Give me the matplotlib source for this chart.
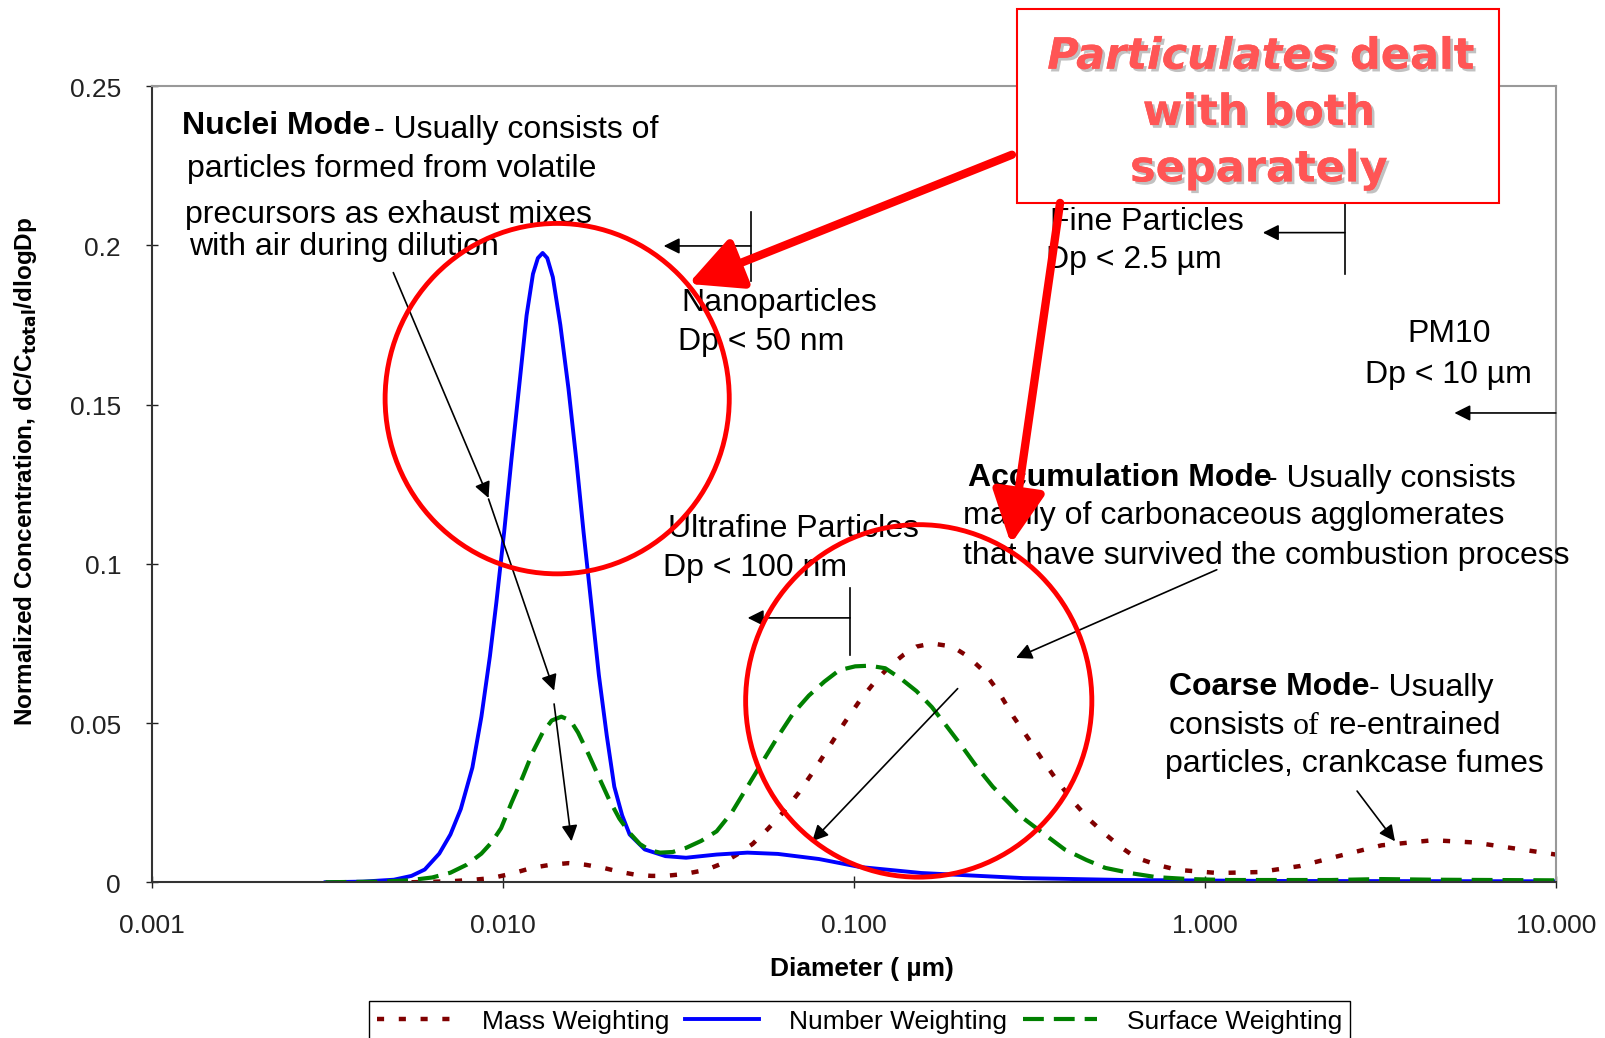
import matplotlib
matplotlib.use('Agg')
import matplotlib.pyplot as plt
from matplotlib.patches import Ellipse, Rectangle, FancyArrowPatch
from matplotlib.lines import Line2D
from matplotlib.ticker import NullLocator
import matplotlib.patheffects as pe

plt.rcParams['font.family'] = ['Liberation Sans', 'DejaVu Sans']

# --- data (diameter in um, dC/Ctotal/dlogDp) ---
diam_number = [0.00313, 0.0040, 0.0049, 0.0055, 0.0060, 0.0066, 0.0071, 0.0076, 0.0082, 0.0087,
               0.0092, 0.0096, 0.0101, 0.0106, 0.0112, 0.0117, 0.0122, 0.0126, 0.0130, 0.0134,
               0.0139, 0.0146, 0.0154, 0.0162, 0.0170, 0.0179, 0.0188, 0.0198, 0.0208, 0.0219,
               0.0230, 0.0254, 0.0291, 0.0333, 0.0407, 0.0498, 0.0608, 0.0796, 0.104, 0.156,
               0.305, 0.597, 1.63, 10.0]
number_w = [0.0, 0.0002, 0.0008, 0.002, 0.004, 0.009, 0.015, 0.023, 0.036, 0.052,
            0.071, 0.088, 0.110, 0.133, 0.158, 0.178, 0.191, 0.196, 0.1976, 0.196,
            0.190, 0.175, 0.155, 0.133, 0.110, 0.087, 0.065, 0.046, 0.030, 0.021,
            0.015, 0.0103, 0.0082, 0.0077, 0.0087, 0.0093, 0.0089, 0.0073, 0.0048, 0.0029,
            0.0013, 0.0007, 0.0004, 0.0003]

diam_surface = [0.00313, 0.0045, 0.0054, 0.0063, 0.0071, 0.0079, 0.0087, 0.0093, 0.0099, 0.0106,
                0.0114, 0.0122, 0.0130, 0.0138, 0.0147, 0.0156, 0.0164, 0.0176, 0.0188, 0.0201,
                0.0215, 0.0230, 0.0246, 0.0263, 0.0281, 0.0305, 0.0333, 0.0368, 0.0407, 0.0450,
                0.0498, 0.0551, 0.0608, 0.0672, 0.0745, 0.0825, 0.091, 0.101, 0.111, 0.123,
                0.136, 0.151, 0.167, 0.184, 0.204, 0.225, 0.249, 0.276, 0.305, 0.350,
                0.399, 0.46, 0.521, 0.62, 0.729, 0.9, 1.17, 2.29, 3.19, 4.47, 10.0]
surface_w = [0.0, 0.0002, 0.0006, 0.0015, 0.003, 0.0055, 0.009, 0.0125, 0.017, 0.025,
             0.033, 0.041, 0.047, 0.0508, 0.052, 0.0508, 0.047, 0.040, 0.033, 0.026,
             0.020, 0.0155, 0.012, 0.010, 0.0093, 0.0095, 0.0108, 0.013, 0.016, 0.022,
             0.030, 0.038, 0.0457, 0.053, 0.0586, 0.063, 0.0666, 0.0678, 0.068, 0.0672,
             0.064, 0.060, 0.055, 0.049, 0.0425, 0.036, 0.030, 0.025, 0.020, 0.015,
             0.0103, 0.007, 0.0045, 0.0028, 0.0016, 0.001, 0.0007, 0.0007, 0.001, 0.0008, 0.0006]

diam_mass = [0.0055, 0.0071, 0.0083, 0.0093, 0.0107, 0.0121, 0.0137, 0.0154, 0.0172, 0.0194,
             0.0215, 0.0238, 0.0265, 0.0291, 0.033, 0.038, 0.042, 0.0465, 0.0515, 0.0569,
             0.063, 0.0696, 0.077, 0.0851, 0.094, 0.104, 0.115, 0.127, 0.139, 0.151,
             0.167, 0.191, 0.211, 0.233, 0.258, 0.285, 0.315, 0.349, 0.385, 0.426,
             0.471, 0.521, 0.577, 0.638, 0.73, 0.834, 1.09, 1.43, 1.87, 2.44,
             3.19, 4.47, 5.85, 7.64, 10.0]
mass_w = [0.0, 0.0003, 0.0008, 0.0013, 0.0028, 0.0045, 0.0055, 0.006, 0.0055, 0.0045,
          0.0033, 0.0024, 0.002, 0.002, 0.0026, 0.0039, 0.0058, 0.0087, 0.012, 0.0167,
          0.022, 0.028, 0.035, 0.0425, 0.050, 0.057, 0.063, 0.068, 0.0715, 0.074,
          0.075, 0.074, 0.071, 0.0666, 0.060, 0.052, 0.045, 0.0376, 0.031, 0.0248,
          0.0195, 0.0151, 0.011, 0.0077, 0.0055, 0.0039, 0.0029, 0.0032, 0.0051, 0.0084,
          0.0116, 0.0132, 0.0125, 0.0106, 0.0087]

x_ticks = [0.001, 0.01, 0.1, 1, 10]
x_tick_labels = ['0.001', '0.010', '0.100', '1.000', '10.000']
y_ticks = [0, 0.05, 0.1, 0.15, 0.2, 0.25]
y_tick_labels = ['0', '0.05', '0.1', '0.15', '0.2', '0.25']

# layout was measured on a 1568x1014 copy of the picture
W, H = 1568, 1014

def fx(x):
    return x / W

def fy(y):
    return 1 - y / H

fig = plt.figure(figsize=(16.0599, 10.3899), dpi=100)
ax = fig.add_axes([fx(148), fy(862), fx(1519) - fx(148), fy(85) - fy(862)])

l_mass, = ax.plot(diam_mass, mass_w, color='#800000', lw=3.2, linestyle=(0, (1.6, 3.3)),
                  label='Mass Weighting')
l_num, = ax.plot(diam_number, number_w, color='#0000FF', lw=2.8, label='Number Weighting')
l_surf, = ax.plot(diam_surface, surface_w, color='#008000', lw=3, linestyle=(0, (5, 2.4)),
                  label='Surface Weighting')

ax.set_xscale('log')
ax.set_xlim(0.001, 10)
ax.set_ylim(0, 0.25)
ax.set_xticks(x_ticks)
ax.set_xticklabels(x_tick_labels)
ax.xaxis.set_minor_locator(NullLocator())
ax.set_yticks(y_ticks)
ax.set_yticklabels(y_tick_labels)
ax.tick_params(direction='inout', length=8, width=1, labelsize=19, colors='#222222')
ax.tick_params(axis='y', pad=18)
ax.tick_params(axis='x', pad=18)
for s in ['left', 'bottom']:
    ax.spines[s].set_color('#333333')
    ax.spines[s].set_linewidth(1.5)
for s in ['top', 'right']:
    ax.spines[s].set_color('#999999')
    ax.spines[s].set_linewidth(1.5)

fig.text(fx(842), fy(946), 'Diameter ( \u00b5m)', fontsize=19, fontweight='bold',
         ha='center', va='center')
fig.text(fx(25), fy(460), 'Normalized Concentration, dC/C$_{\\mathbf{total}}$/dlogDp',
         fontsize=17.5, fontweight='bold', rotation=90, ha='center', va='center')

# annotation texts (x, baseline y, text, weight)
notes = [
    (178, 131, 'Nuclei Mode', 'bold'),
    (365, 135, '- Usually consists of', 'normal'),
    (183, 173, 'particles formed from volatile', 'normal'),
    (181, 218, 'precursors as exhaust mixes', 'normal'),
    (185, 249, 'with air during dilution', 'normal'),
    (665, 304, 'Nanoparticles', 'normal'),
    (662, 342, 'Dp < 50 nm', 'normal'),
    (1025, 224, 'Fine Particles', 'normal'),
    (1021, 262, 'Dp < 2.5 \u00b5m', 'normal'),
    (1374, 334, 'PM10', 'normal'),
    (1333, 374, 'Dp < 10 \u00b5m', 'normal'),
    (945, 474, 'Accumulation Mode', 'bold'),
    (1237, 475, '- Usually consists', 'normal'),
    (940, 511, 'mainly of carbonaceous agglomerates', 'normal'),
    (940, 550, 'that have survived the combustion process', 'normal'),
    (652, 524, 'Ultrafine Particles', 'normal'),
    (647, 562, 'Dp < 100 nm', 'normal'),
    (1141, 678, 'Coarse Mode', 'bold'),
    (1337, 679, '- Usually', 'normal'),
    (1141, 716, 'consists ', 'normal'),
    (1297, 716, 're-entrained', 'normal'),
    (1137, 753, 'particles, crankcase fumes', 'normal'),
]
for x, y, s, w in notes:
    fig.text(fx(x), fy(y), s, fontsize=23, fontweight=w, va='baseline', ha='left', zorder=3)
fig.text(fx(1262), fy(716), 'of', fontsize=23, family='Liberation Serif', va='baseline', zorder=3)

# bracket lines
brackets = [
    [(733, 208), (733, 275)],
    [(1313, 195), (1313, 268)],
    [(830, 575), (830, 640)],
]
for (x0, y0), (x1, y1) in brackets:
    fig.add_artist(Line2D([fx(x0), fx(x1)], [fy(y0), fy(y1)], color='black', lw=1.2,
                          transform=fig.transFigure, zorder=3))

black_arrows = [
    ((733, 241), (648, 241)),
    ((1313, 228), (1233, 228)),
    ((1519, 404), (1420, 404)),
    ((830, 604), (730, 604)),
    ((384, 267), (477, 487)),
    ((477, 488), (541, 675)),
    ((541, 688), (558, 822)),
    ((1188, 557), (992, 643)),
    ((935, 673), (793, 822)),
    ((1325, 773), (1362, 822)),
]
for (x0, y0), (x1, y1) in black_arrows:
    fig.add_artist(FancyArrowPatch((fx(x0), fy(y0)), (fx(x1), fy(y1)), transform=fig.transFigure,
                                   arrowstyle='-|>', mutation_scale=24, color='black', lw=1.2,
                                   shrinkA=0, shrinkB=0, zorder=3))

# red circles
fig.add_artist(Ellipse((fx(544), fy(390)), fx(336), 342 / H, transform=fig.transFigure,
                       fill=False, edgecolor='#FF0000', lw=3.5, zorder=4))
fig.add_artist(Ellipse((fx(897), fy(685)), fx(338), 344 / H, transform=fig.transFigure,
                       fill=False, edgecolor='#FF0000', lw=3.5, zorder=4))

# red box
fig.add_artist(Rectangle((fx(993), fy(199)), fx(1464) - fx(993), fy(10) - fy(199),
                         transform=fig.transFigure, facecolor='white', edgecolor='#FF0000',
                         lw=1.5, zorder=5))
shadow = [pe.withSimplePatchShadow(offset=(2, -2), shadow_rgbFace='#999999', alpha=0.6), pe.Normal()]
red_txt = '#FF5555'
fig.text(fx(1305), fy(68), 'Particulates', fontsize=31, fontweight='bold', fontstyle='italic',
         family='DejaVu Sans', color=red_txt, ha='right', va='baseline', zorder=6, path_effects=shadow)
fig.text(fx(1318), fy(68), 'dealt', fontsize=31, fontweight='bold', family='DejaVu Sans',
         color=red_txt, ha='left', va='baseline', zorder=6, path_effects=shadow)
fig.text(fx(1229), fy(123), 'with both', fontsize=31, fontweight='bold', family='DejaVu Sans',
         color=red_txt, ha='center', va='baseline', zorder=6, path_effects=shadow)
fig.text(fx(1229), fy(178), 'separately', fontsize=31, fontweight='bold', family='DejaVu Sans',
         color=red_txt, ha='center', va='baseline', zorder=6, path_effects=shadow)

# red arrows
for (x0, y0), (x1, y1) in [((988, 152), (672, 278)), ((1035, 199), (987, 532))]:
    fig.add_artist(FancyArrowPatch((fx(x0), fy(y0)), (fx(x1), fy(y1)), transform=fig.transFigure,
                                   arrowstyle='-|>,head_length=0.8,head_width=0.4',
                                   mutation_scale=40, color='#FF0000', lw=6,
                                   shrinkA=0, shrinkB=0, zorder=7))

leg = fig.legend(handles=[l_mass, l_num, l_surf], loc='upper center',
                 bbox_to_anchor=(fx(839.5), fy(978)), ncol=3, fontsize=19, frameon=True,
                 fancybox=False, edgecolor='black', framealpha=1, handlelength=2.8,
                 handletextpad=1.15, columnspacing=0.6, borderaxespad=0, borderpad=0.3)
leg.get_frame().set_linewidth(1)

fig.savefig('out.png', dpi=100)
